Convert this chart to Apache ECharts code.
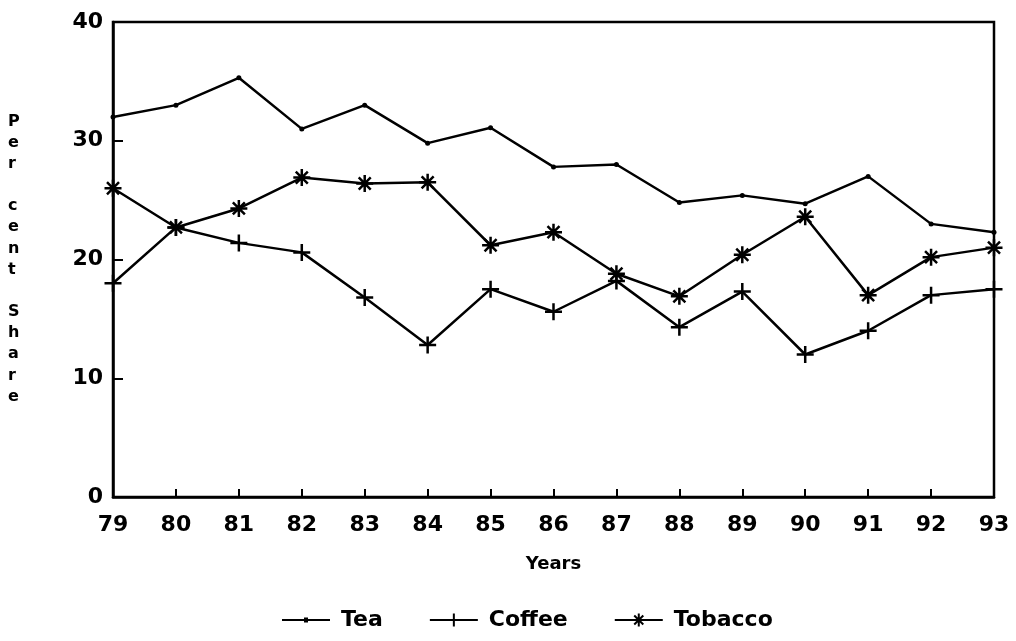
<!DOCTYPE html>
<html>
<head>
<meta charset="utf-8">
<script src="https://cdn.jsdelivr.net/npm/echarts@6/dist/echarts.min.js"></script>
<style>
html,body{margin:0;padding:0;background:#fff;}
#chart{width:1016px;height:641px;}
</style>
</head>
<body>
<div id="chart"></div>
<script>
const years = ['79','80','81','82','83','84','85','86','87','88','89','90','91','92','93'];
const tea = [32.0, 33.0, 35.3, 31.0, 33.0, 29.8, 31.1, 27.8, 28.0, 24.8, 25.4, 24.7, 27.0, 23.0, 22.3];
const coffee = [18.0, 22.7, 21.4, 20.6, 16.8, 12.8, 17.5, 15.6, 18.2, 14.3, 17.3, 12.0, 14.0, 17.0, 17.5];
const tobacco = [26.0, 22.7, 24.3, 26.9, 26.4, 26.5, 21.2, 22.3, 18.8, 16.9, 20.4, 23.6, 17.0, 20.2, 21.0];
const yTicks = [0, 10, 20, 30, 40];
const seriesNames = ['Tea', 'Coffee', 'Tobacco'];

const FONT = '"DejaVu Sans", "Liberation Sans", Arial, sans-serif';
const plusPath = 'path://M0,-10L0,10M-10,0L10,0';
const starPath = 'path://M0,-10L0,10M-10,0L10,0M-7.07,-7.07L7.07,7.07M-7.07,7.07L7.07,-7.07';
const teaLegendIcon = 'path://M0,0L0.01,0L0,0.01Z M0,16L0.01,16L0,15.99Z M0,7L48,7L48,9L0,9Z M22,5.5L26,5.5L26,10.5L22,10.5Z';

const chart = echarts.init(document.getElementById('chart'));

function lineSeries(name, data, symbol, size) {
  return {
    name: name,
    type: 'line',
    data: data,
    symbol: symbol,
    symbolSize: size,
    showAllSymbol: true,
    lineStyle: { color: '#000', width: 2.5 },
    itemStyle: { color: '#000', borderColor: '#000', borderWidth: symbol === 'circle' ? 0 : 2.5 },
    emphasis: { disabled: true },
    z: 3
  };
}

chart.setOption({
  animation: false,
  backgroundColor: '#fff',
  grid: { left: 113, right: 22, top: 22, bottom: 144, show: true, borderColor: '#000', borderWidth: 2.5, backgroundColor: 'transparent' },
  xAxis: {
    type: 'category',
    data: years,
    boundaryGap: false,
    name: 'Years',
    nameLocation: 'middle',
    nameGap: 58,
    nameTextStyle: { color: '#000', fontFamily: FONT, fontWeight: 'bold', fontSize: 18 },
    axisLine: { lineStyle: { color: '#000', width: 2.5 } },
    axisTick: { inside: true, length: 8, lineStyle: { color: '#000', width: 2 }, alignWithLabel: true },
    axisLabel: { color: '#000', fontFamily: FONT, fontWeight: 'bold', fontSize: 22, margin: 17 },
    splitLine: { show: false }
  },
  yAxis: {
    type: 'value',
    min: yTicks[0],
    max: yTicks[yTicks.length - 1],
    interval: 10,
    axisLine: { show: true, lineStyle: { color: '#000', width: 2.5 } },
    axisTick: { show: true, inside: true, length: 10, lineStyle: { color: '#000', width: 2 } },
    axisLabel: { color: '#000', fontFamily: FONT, fontWeight: 'bold', fontSize: 22, margin: 10 },
    splitLine: { show: false }
  },
  legend: {
    data: [
      { name: seriesNames[0], icon: teaLegendIcon, itemStyle: { borderWidth: 0 } },
      { name: seriesNames[1] },
      { name: seriesNames[2] }
    ],
    bottom: 5,
    left: 277,
    itemWidth: 48,
    itemHeight: 16,
    itemGap: 46,
    textStyle: { color: '#000', fontFamily: FONT, fontWeight: 'bold', fontSize: 22, padding: [0, 0, 0, 6] }
  },
  graphic: [{
    type: 'text',
    left: 8,
    top: 111,
    style: {
      text: 'P\ne\nr\n\nc\ne\nn\nt\n\nS\nh\na\nr\ne',
      fill: '#000',
      font: 'bold 16px ' + FONT,
      lineHeight: 21.15,
      align: 'center'
    }
  }],
  series: [
    lineSeries(seriesNames[0], tea, 'circle', 5),
    lineSeries(seriesNames[1], coffee, plusPath, 17),
    lineSeries(seriesNames[2], tobacco, starPath, 17)
  ]
});
</script>
</body>
</html>
